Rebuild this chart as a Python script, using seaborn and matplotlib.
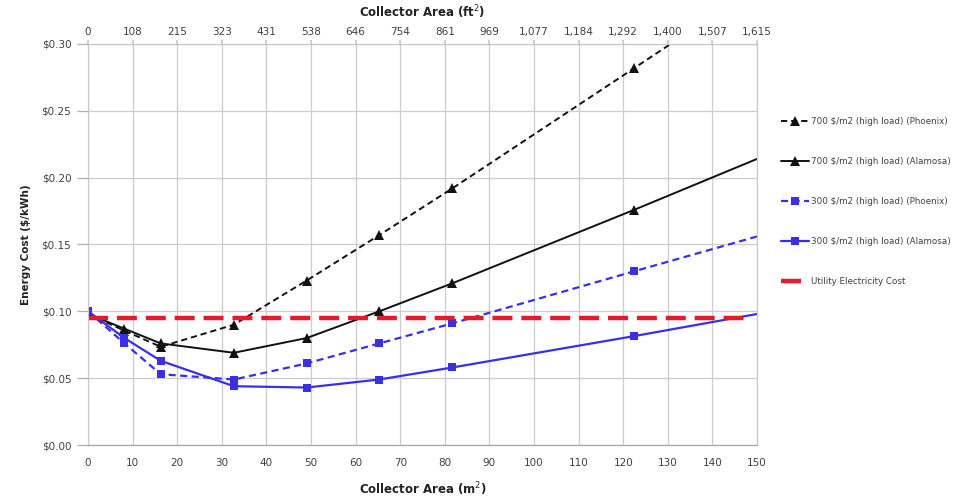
import matplotlib
matplotlib.use("Agg")
import matplotlib.pyplot as plt
import seaborn as sns
import pandas as pd
from matplotlib.ticker import FuncFormatter, MultipleLocator

# Collector area (m2) at each simulated point; last value is the axis end
area_m2 = [0, 8.17, 16.3, 32.7, 49.0, 65.3, 81.7, 122.5, 150]

# Levelized energy cost ($/kWh)
cost_700_phoenix = [0.098, 0.0855, 0.0735, 0.090, 0.123, 0.157, 0.192, 0.282, 0.343]
cost_700_alamosa = [0.098, 0.087, 0.076, 0.069, 0.080, 0.100, 0.121, 0.176, 0.214]
cost_300_phoenix = [0.100, 0.076, 0.053, 0.049, 0.061, 0.076, 0.091, 0.130, 0.156]
cost_300_alamosa = [0.100, 0.080, 0.063, 0.044, 0.043, 0.049, 0.058, 0.0815, 0.098]

utility_cost = 0.095
utility_x = [0, 148]

labels = [
    "700 $/m2 (high load) (Phoenix)",
    "700 $/m2 (high load) (Alamosa)",
    "300 $/m2 (high load) (Phoenix)",
    "300 $/m2 (high load) (Alamosa)",
    "Utility Electricity Cost",
]

x_ticks_m2 = list(range(0, 151, 10))
x_ticks_ft2 = ["0", "108", "215", "323", "431", "538", "646", "754", "861",
               "969", "1,077", "1,184", "1,292", "1,400", "1,507", "1,615"]

sns.set_theme(style="white")
plt.rcParams["font.family"] = ["DejaVu Sans"]

fig = plt.figure(figsize=(9.76, 4.97), dpi=100)
ax = fig.add_axes([0.0902, 0.1046, 0.6854, 0.8069])

black = "#111111"
blue = "#3a2ee6"
red = "#e8192c"

series = [
    (cost_700_phoenix, black, (0, (3.2, 2.0)), "^", 6.5, 1.4),
    (cost_700_alamosa, black, "-", "^", 6.5, 1.4),
    (cost_300_phoenix, blue, (0, (3.2, 2.0)), "s", 5.5, 1.6),
    (cost_300_alamosa, blue, "-", "s", 5.5, 1.6),
]

for (vals, col, ls, mk, ms, lw), lab in zip(series, labels[:4]):
    df = pd.DataFrame({"area": area_m2, "cost": vals})
    sns.lineplot(data=df, x="area", y="cost", ax=ax, color=col, linestyle=ls,
                 marker=mk, markersize=ms, markeredgewidth=0, linewidth=lw,
                 markevery=slice(0, len(area_m2) - 1), label=lab, clip_on=True)

df_u = pd.DataFrame({"area": utility_x, "cost": [utility_cost, utility_cost]})
sns.lineplot(data=df_u, x="area", y="cost", ax=ax, color=red,
             linestyle=(0, (4.5, 2.0)), linewidth=3.2, label=labels[4])

ax.set_xlim(0, 150)
ax.set_ylim(0, 0.30)
ax.set_xticks(x_ticks_m2)
ax.yaxis.set_major_locator(MultipleLocator(0.05))
ax.yaxis.set_major_formatter(FuncFormatter(lambda v, p: f"${v:.2f}"))
ax.grid(True, color="#cccccc", linewidth=0.9)
ax.set_axisbelow(True)
for s in ax.spines.values():
    s.set_color("#c8c8c8")
    s.set_linewidth(0.9)
ax.spines["bottom"].set_color("#a8a8a8")

ax.tick_params(axis="x", which="both", length=0, pad=9, labelsize=7.5,
               labelcolor="#404040")
ax.tick_params(axis="y", which="both", left=True, length=8, width=0.9,
               color="#b0b0b0", pad=4, labelsize=7.5, labelcolor="#404040")

ax.set_xlabel("Collector Area (m$^2$)", fontsize=8.5, fontweight="bold",
              color="#222222", labelpad=9)
ax.set_ylabel("Energy Cost ($/kWh)", fontsize=7.5, fontweight="bold",
              color="#222222", labelpad=8)

ax_top = ax.twiny()
ax_top.set_xlim(ax.get_xlim())
ax_top.set_xticks(x_ticks_m2)
ax_top.set_xticklabels(x_ticks_ft2)
ax_top.tick_params(axis="x", length=3, color="#c8c8c8", pad=2, labelsize=7.5,
                   labelcolor="#404040")
for s in ax_top.spines.values():
    s.set_visible(False)
ax_top.set_xlabel("Collector Area (ft$^2$)", fontsize=8.5, fontweight="bold",
                  color="#222222", labelpad=7)

handles, labs = ax.get_legend_handles_labels()
ax.get_legend().remove()
fig.legend(handles, labs, loc="upper left", bbox_to_anchor=(0.792, 0.781),
           frameon=False, fontsize=6.3, labelcolor="#404040",
           handlelength=3.2, handletextpad=0.3, labelspacing=3.55)

fig.savefig("out.png", dpi=100)
